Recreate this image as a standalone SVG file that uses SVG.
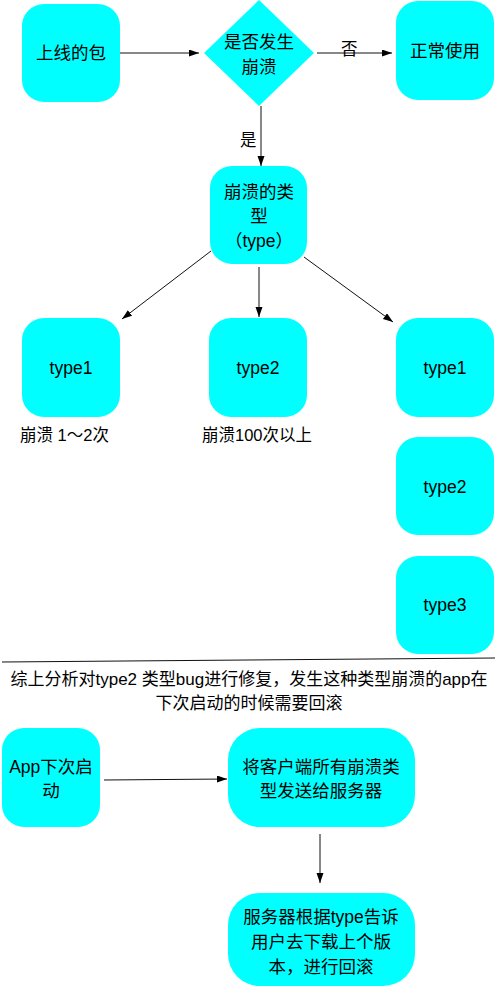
<svg xmlns="http://www.w3.org/2000/svg" width="497" height="986" viewBox="0 0 497 986">
<style>
.n{fill:#00FFFF;stroke:none}
.t{font-family:"Liberation Sans","Noto Sans CJK SC",sans-serif;font-size:17.5px;fill:#000;text-anchor:middle;dominant-baseline:central}
.l{font-family:"Liberation Sans","Noto Sans CJK SC",sans-serif;font-size:16.5px;fill:#000;dominant-baseline:central}
.c{stroke:#111;stroke-width:1;fill:none;marker-end:url(#ah)}
</style>
<defs>
<marker id="ah" markerUnits="userSpaceOnUse" markerWidth="11" markerHeight="8" refX="10" refY="3.5" orient="auto">
<path d="M0,0 L10,3.5 L0,7 z" fill="#000"/>
</marker>
</defs>
<rect width="497" height="986" fill="#fff"/>
<g id="connectors">
<line class="c" x1="120" y1="53" x2="199" y2="53"/>
<line class="c" x1="317" y1="53" x2="392" y2="53"/>
<line class="c" x1="261" y1="106" x2="261" y2="166"/>
<line class="c" x1="211" y1="251" x2="122" y2="319"/>
<line class="c" x1="259" y1="267" x2="259" y2="317"/>
<line class="c" x1="304" y1="257" x2="393" y2="322"/>
<line class="c" x1="104" y1="780" x2="227" y2="779"/>
<line class="c" x1="320" y1="834" x2="320" y2="883"/>
<text class="l" x="341" y="49">否</text>
<text class="l" x="240" y="140">是</text>
</g>
<g id="n1"><rect class="n" x="22" y="4" width="98" height="98" rx="22"/><text class="t" x="71" y="53">上线的包</text></g>
<g id="n2"><polygon class="n" points="259,0 314,53 259,106 204,53"/><text class="t" x="259" y="42">是否发生</text><text class="t" x="259" y="67">崩溃</text></g>
<g id="n3"><rect class="n" x="396" y="1" width="98" height="99" rx="22"/><text class="t" x="445" y="51">正常使用</text></g>
<g id="n4"><rect class="n" x="210" y="166" width="97" height="98" rx="22"/><text class="t" x="259" y="192">崩溃的类</text><text class="t" x="259" y="216">型</text><text class="t" x="259" y="241">（type）</text></g>
<g id="n5"><rect class="n" x="22" y="318" width="98" height="99" rx="22"/><text class="t" x="71" y="368">type1</text></g>
<g id="n6"><rect class="n" x="209" y="318" width="98" height="99" rx="22"/><text class="t" x="258" y="368">type2</text></g>
<g id="n7"><rect class="n" x="396" y="318" width="98" height="99" rx="22"/><text class="t" x="445" y="368">type1</text></g>
<g id="n8"><rect class="n" x="396" y="437" width="98" height="98" rx="22"/><text class="t" x="445" y="487">type2</text></g>
<g id="n9"><rect class="n" x="396" y="556" width="98" height="98" rx="22"/><text class="t" x="445" y="605">type3</text></g>
<g id="labels">
<text class="l" x="20" y="435">崩溃 1～2次</text>
<text class="l" x="202" y="435">崩溃100次以上</text>
</g>
<g id="divider">
<line x1="2" y1="662" x2="495" y2="658" stroke="#111" stroke-width="1"/>
<text class="t" x="249" y="679" style="font-size:17px">综上分析对type2 类型bug进行修复，发生这种类型崩溃的app在</text>
<text class="t" x="249" y="703" style="font-size:17px">下次启动的时候需要回滚</text>
</g>
<g id="n10"><rect class="n" x="2" y="728" width="98" height="99" rx="22"/><text class="t" x="51" y="767">App下次启</text><text class="t" x="51" y="791">动</text></g>
<g id="n11"><rect class="n" x="228" y="728" width="187" height="99" rx="32"/><text class="t" x="321" y="767">将客户端所有崩溃类</text><text class="t" x="321" y="791">型发送给服务器</text></g>
<g id="n12"><rect class="n" x="228" y="893" width="187" height="93" rx="32"/><text class="t" x="321" y="917">服务器根据type告诉</text><text class="t" x="321" y="942">用户去下载上个版</text><text class="t" x="321" y="967">本，进行回滚</text></g>
</svg>
